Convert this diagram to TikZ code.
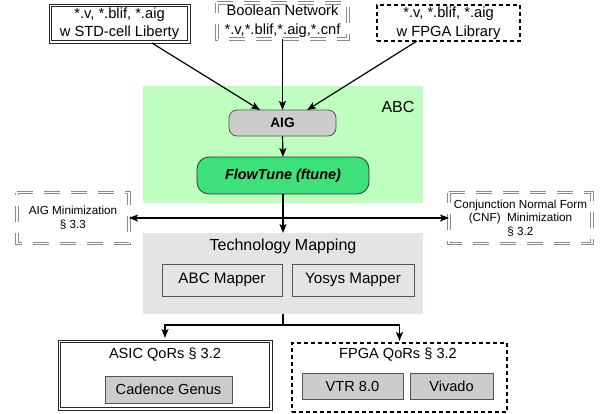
\documentclass[tikz,border=0pt]{standalone}
\usepackage{fontspec}
\setmainfont{Liberation Sans}
\usetikzlibrary{arrows.meta,calc}
\definecolor{abcgreen}{HTML}{BEFFC0}
\definecolor{ftgreen}{HTML}{3DE07A}
\definecolor{tmgray}{HTML}{E5E3E6}
\definecolor{boxgray}{HTML}{CCCCCC}
\definecolor{edgegray}{HTML}{555555}
\definecolor{dashgray}{HTML}{8A8A8A}
\begin{document}
\begin{tikzpicture}[x=1pt,y=-1pt,
  every node/.style={inner sep=0pt, outer sep=0pt, align=center},
  sz/.style 2 args={minimum width=#1pt, minimum height=#2pt},
  ftop/.style={font=\fontsize{14.7}{18.5}\selectfont},
  fside/.style={font=\fontsize{11.7}{13.6}\selectfont},
  fbot/.style={font=\fontsize{14.6}{17}\selectfont},
  plainbox/.style={fill=white},
  dblline/.style={draw=black!85, line width=0.8pt},
  gdashout/.style={draw=dashgray, line width=3.2pt, dash pattern=on 16pt off 11pt},
  gdashin/.style={draw=white, line width=1.4pt, dash pattern=on 16pt off 11pt},
  thickdash/.style={draw=black, line width=2pt, dash pattern=on 4pt off 3pt, fill=white},
  region/.style={draw=none},
  subbox/.style={draw=edgegray, line width=0.7pt},
  arr/.style={-{Stealth[length=9pt,width=7pt,inset=2pt]}, line width=1.2pt},
  darr/.style={{Stealth[length=9pt,width=7pt,inset=2pt]}-{Stealth[length=9pt,width=7pt,inset=2pt]}, line width=1.2pt},
]
\useasboundingbox (0,0) rectangle (606,413);

% regions
\node[region, fill=abcgreen, sz={280}{117}] (abc) at (283,144.5) {};
\node[region, fill=tmgray, sz={280}{81}] (tm) at (283,273.5) {};
\node[font=\fontsize{16}{18}\selectfont] (abclbl) at (398,107) {ABC};

% inputs
\node[plainbox, ftop, sz={141}{39}] (tl) at (119.5,23.5) {*.v, *.blif, *.aig\\w STD-cell Liberty};
\node[plainbox, ftop, sz={131}{36}] (bn) at (282.5,21) {Boolean Network\\*.v,*.blif,*.aig,*.cnf};
\node[thickdash, ftop, sz={143}{36}] (tr) at (448.5,23) {*.v, *.blif, *.aig\\w FPGA Library};

% ABC content
\node[draw=edgegray, line width=0.8pt, fill=boxgray, rounded corners=8pt, sz={107}{26},
      font=\bfseries\fontsize{13.7}{16}\selectfont] (aig) at (282.5,123) {AIG};
\node[draw=black!80, line width=0.8pt, fill=ftgreen, rounded corners=12pt, sz={172}{37},
      font=\bfseries\itshape\fontsize{14.4}{16}\selectfont] (ft) at (283,175.5) {FlowTune (ftune)};

% side boxes
\node[plainbox, fside, sz={112}{51}] (aigmin) at (73,218) {AIG Minimization\\§ 3.3};
\node[plainbox, fside, sz={143}{51}] (cnf) at (520.5,218) {Conjunction Normal Form\\(CNF)\ \ Minimization\\§ 3.2};

% technology mapping
\node[font=\fontsize{16}{18}\selectfont] (tmlbl) at (283,246) {Technology Mapping};
\node[subbox, sz={120}{32}, font=\fontsize{15.2}{17}\selectfont] (abcm) at (222,280) {ABC Mapper};
\node[subbox, sz={122}{32}, font=\fontsize{15.2}{17}\selectfont] (yos) at (353,280) {Yosys Mapper};

% outputs
\node[plainbox, sz={214}{70}] (asic) at (165,375) {};
\node[fbot] (asiclbl) at (165,355) {ASIC QoRs § 3.2};
\node[subbox, fill=boxgray, sz={127}{27}, fbot] (cad) at (168.5,389.5) {Cadence Genus};
\node[thickdash, sz={215}{69}] (fpga) at (399.5,377.5) {};
\node[fbot] (fpgalbl) at (398,355) {FPGA QoRs § 3.2};
\node[subbox, fill=boxgray, sz={101}{26}, fbot] (vtr) at (352.5,386) {VTR 8.0};
\node[subbox, fill=boxgray, sz={83}{26}, fbot] (viv) at (451.5,386) {Vivado};

% double borders
\foreach \n in {tl,asic}{
  \draw[dblline] (\n.south west) rectangle (\n.north east);
  \draw[dblline] ($(\n.south west)+(2.6,-2.6)$) rectangle ($(\n.north east)+(-2.6,2.6)$);
}
% gray dashed double borders
\foreach \n in {bn,aigmin,cnf}{
  \draw[gdashout] (\n.north west) -- (\n.north east) -- (\n.south east) -- (\n.south west) -- cycle;
  \draw[gdashin] (\n.north west) -- (\n.north east) -- (\n.south east) -- (\n.south west) -- cycle;
}

% connectors
\draw[arr] ($(tl.south west)!0.73!(tl.south east)$) -- ($(aig.north west)!0.29!(aig.north east)$);
\draw[arr] (bn.south) -- (aig.north);
\draw[arr] ($(tr.south west)!0.28!(tr.south east)$) -- ($(aig.north west)!0.73!(aig.north east)$);
\draw[arr] (aig.south) -- (ft.north);
\draw[darr] (aigmin.east) -- (cnf.west);
\draw[arr] (ft.south) -- (tm.north);
\draw[line width=1.2pt] (tm.south) -- ++(0,11) coordinate (split);
\draw[arr, shorten >=2pt] (split) -| (asic.north);
\draw[arr, shorten >=2pt] (split) -| (fpga.north);
\end{tikzpicture}
\end{document}
